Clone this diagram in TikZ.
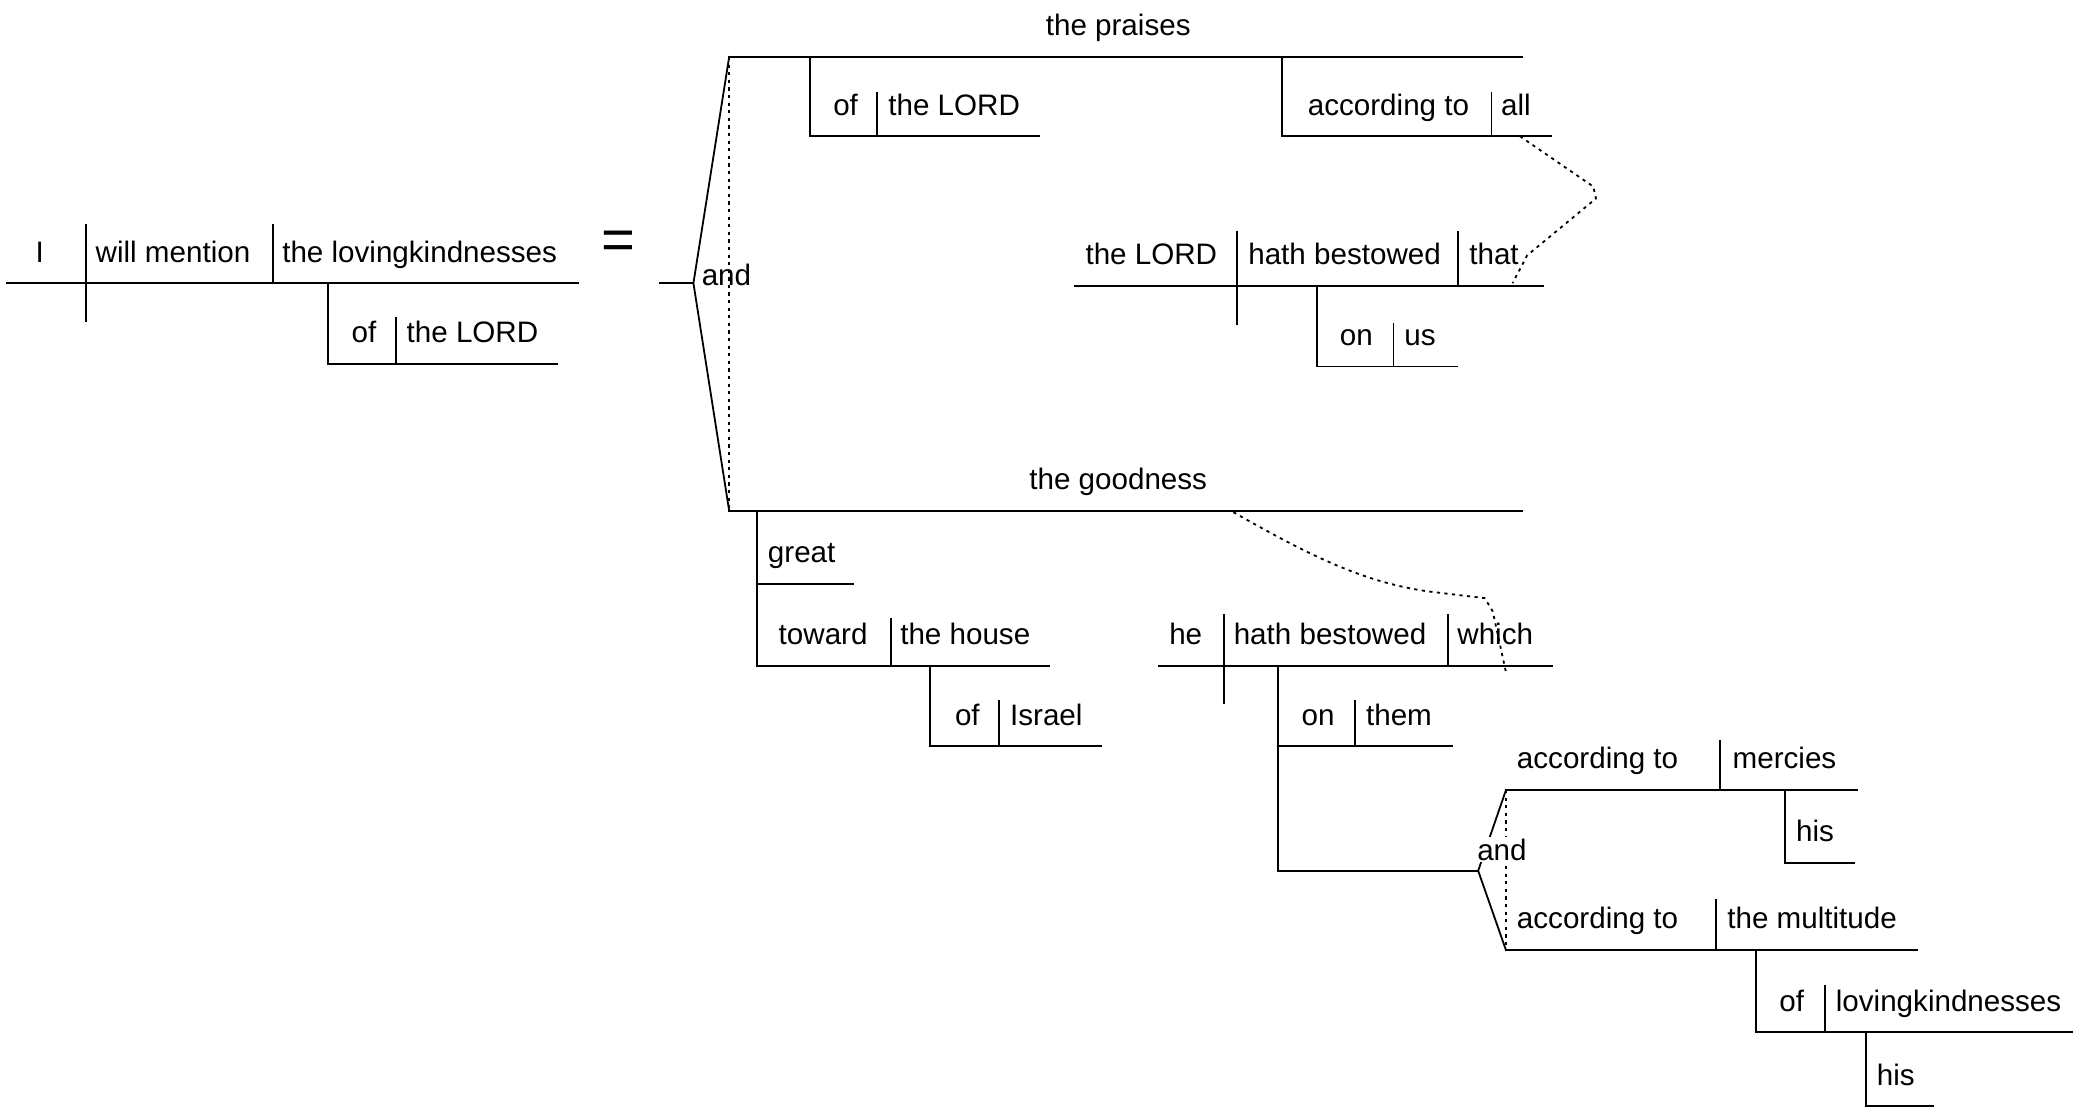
\documentclass[tikz,border=0pt]{standalone}
\usepackage{fontspec}
\setmainfont{Liberation Sans}
\begin{document}
\begin{tikzpicture}[x=0.6617pt,y=-0.6617pt,
  ln/.style={line width=0.9pt,line cap=rect},
  dl/.style={line width=0.9pt,dash pattern=on 1.6pt off 2.2pt},
  wd/.style={font=\fontsize{14.8}{16}\selectfont,inner sep=0pt,anchor=base west},
  wc/.style={font=\fontsize{14.8}{16}\selectfont,inner sep=0pt,anchor=base},
]
\useasboundingbox (0,0) rectangle (1568,836.6);

% ---------- main clause ----------
\draw[ln] (5,214) -- (437,214);
\draw[ln] (65,170) -- (65,243);
\draw[ln] (206,170) -- (206,214);
\node[wc] (subj) at (30,198) {I};
\node[wd] (verb) at (72,198) {will mention};
\node[wd] (obj) at (213,198) {the lovingkindnesses};
\draw[ln] (248,214) -- (248,275) -- (421,275);
\draw[ln] (299,240) -- (299,275);
\node[wc] (of1) at (275,259) {of};
\node[wd] (lord1) at (307,259) {the LORD};

\node[inner sep=0pt,font=\fontsize{29}{30}\selectfont] (eq) at (467.5,185.5) {=};

% ---------- first conjunction ----------
\draw[ln] (499,214) -- (524,214);
\draw[ln] (551,43) -- (524,214) -- (551,386);
\draw[dl] (551,43) -- (551,386);
\node[wd] (and1) at (530,216) {and};

% top: the praises
\draw[ln] (551,43) -- (1150,43);
\node[wc] (praises) at (845,27) {the praises};
\draw[ln] (612,43) -- (612,103) -- (785,103);
\draw[ln] (663,70) -- (663,103);
\node[wc] (of2) at (639,87) {of};
\node[wd] (lord2) at (671,87) {the LORD};
\draw[ln] (969,43) -- (969,103) -- (1172,103);
\draw[ln] (1127,70) -- (1127,103);
\node[wd] (acc1) at (988,87) {according to};
\node[wd] (all) at (1134,87) {all};

% relative clause 1
\draw[ln] (812,216) -- (1166,216);
\draw[ln] (935,175) -- (935,245);
\draw[ln] (1102,175) -- (1102,216);
\node[wd] (lord3) at (820,200) {the LORD};
\node[wd] (hb1) at (943,200) {hath bestowed};
\node[wd] (that) at (1110,200) {that};
\draw[ln] (995,216) -- (995,277) -- (1101,277);
\draw[ln] (1053,245) -- (1053,277);
\node[wc] (on1) at (1025,261) {on};
\node[wd] (us) at (1061,261) {us};
\draw[dl] (1148.6,103) -- (1204,141) -- (1206,150) -- (1154,193) -- (1143,214);

% bottom: the goodness
\draw[ln] (551,386) -- (1150,386);
\node[wc] (goodness) at (845,370) {the goodness};
\draw[ln] (572,386) -- (572,503);
\draw[ln] (572,441) -- (645,441);
\node[wd] (great) at (580,425) {great};
\draw[ln] (572,503) -- (793,503);
\draw[ln] (673,468) -- (673,503);
\node[wc] (toward) at (622,487) {toward};
\node[wd] (house) at (680,487) {the house};
\draw[ln] (703,503) -- (703,564) -- (832,564);
\draw[ln] (755,530) -- (755,564);
\node[wc] (of3) at (731,548) {of};
\node[wd] (israel) at (763,548) {Israel};

% relative clause 2
\draw[ln] (876,503) -- (1173,503);
\draw[ln] (925,465) -- (925,531);
\draw[ln] (1094,465) -- (1094,503);
\node[wc] (he) at (896,487) {he};
\node[wd] (hb2) at (932,487) {hath bestowed};
\node[wd] (which) at (1101,487) {which};
\draw[dl] (932,387) .. controls (990,420) and (1030,440) .. (1080,447) -- (1122,452) -- (1128,462) -- (1138,508);
\draw[ln] (966,503) -- (966,658);
\draw[ln] (966,564) -- (1097,564);
\draw[ln] (1024,530) -- (1024,564);
\node[wc] (on2) at (996,548) {on};
\node[wd] (them) at (1032,548) {them};
\draw[ln] (966,658) -- (1117,658);

% second conjunction
\draw[ln] (1138,597) -- (1117,658) -- (1138,718);
\draw[dl] (1138,597) -- (1138,718);
\node[wd,fill=white,inner ysep=1pt] (and2) at (1116,650) {and};

\draw[ln] (1138,597) -- (1403,597);
\draw[ln] (1300,560) -- (1300,597);
\node[wd] (acc2) at (1146,581) {according to};
\node[wd] (mercies) at (1309,581) {mercies};
\draw[ln] (1349,597) -- (1349,652) -- (1401,652);
\node[wd] (his1) at (1357,636) {his};

\draw[ln] (1138,718) -- (1449,718);
\draw[ln] (1297,680) -- (1297,718);
\node[wd] (acc3) at (1146,702) {according to};
\node[wd] (mult) at (1305,702) {the multitude};
\draw[ln] (1327,718) -- (1327,780) -- (1566,780);
\draw[ln] (1379,745) -- (1379,780);
\node[wc] (of4) at (1354,764) {of};
\node[wd] (lk2) at (1387,764) {lovingkindnesses};
\draw[ln] (1410,780) -- (1410,836) -- (1461,836);
\node[wd] (his2) at (1418,820) {his};
\end{tikzpicture}
\end{document}
